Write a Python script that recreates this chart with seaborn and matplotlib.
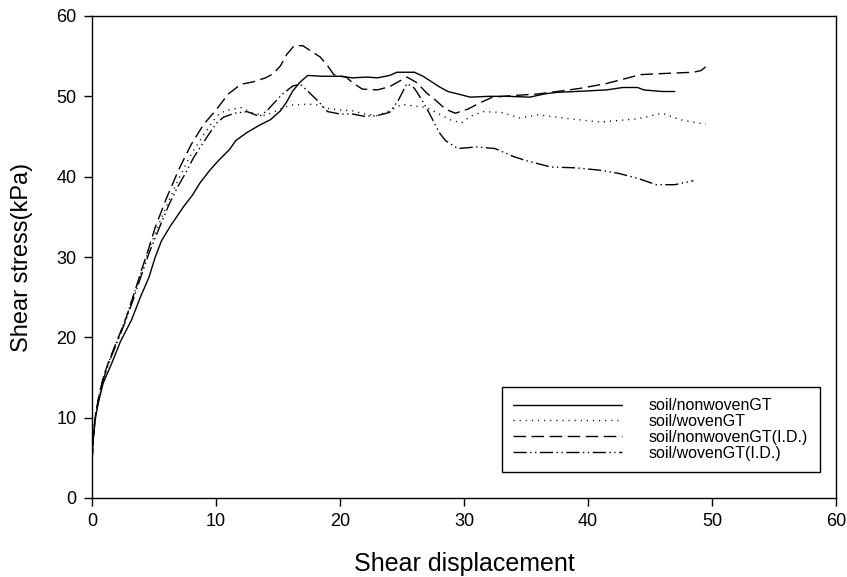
import matplotlib
matplotlib.use("Agg")
import matplotlib.pyplot as plt
import seaborn as sns
import pandas as pd

# ---- data ----
nonwoven_x = [0, 0.1, 0.25, 0.5, 0.9, 1.6, 2.3, 3.2, 3.9, 4.6, 5.1, 5.6, 6.3, 7.4, 8.1, 8.7,
              9.5, 10.2, 11.1, 11.6, 12.5, 13.5, 14.4, 15.2, 15.7, 16.2, 16.8, 17.4, 18.5,
              20.0, 21.0, 22.2, 23.0, 24.0, 24.6, 26.0, 26.7, 27.2, 28.0, 28.7, 29.5, 30.5,
              32.0, 33.5, 35.3, 36.5, 37.5, 39.0, 41.5, 42.8, 44.0, 44.5, 46.0, 47.0]
nonwoven_y = [4.5, 7.3, 9.7, 11.8, 14.3, 16.8, 19.5, 22.2, 25.0, 27.5, 30.0, 32.0, 33.8, 36.3,
              37.7, 39.2, 40.8, 42.0, 43.4, 44.5, 45.5, 46.4, 47.1, 48.2, 49.3, 50.7, 51.8,
              52.6, 52.5, 52.5, 52.3, 52.4, 52.3, 52.6, 53.0, 53.0, 52.5, 52.0, 51.2, 50.6,
              50.3, 49.9, 50.0, 50.0, 49.9, 50.3, 50.5, 50.6, 50.8, 51.1, 51.1, 50.8, 50.6, 50.6]

woven_x = [0, 0.1, 0.25, 0.5, 0.9, 1.4, 2.0, 2.7, 3.3, 4.0, 4.6, 5.5, 6.2, 7.0, 8.0, 9.0, 9.7,
           10.3, 11.0, 12.0, 13.0, 14.0, 15.0, 16.0, 17.0, 18.0, 19.0, 20.0, 21.0, 22.0, 23.0,
           24.0, 25.0, 26.0, 27.0, 28.0, 29.0, 29.8, 30.5, 31.5, 33.0, 34.5, 36.0, 38.0, 41.0,
           44.0, 46.0, 47.4, 49.5]
woven_y = [4.5, 7.6, 10.1, 12.4, 15.0, 17.1, 19.5, 22.3, 25.0, 28.3, 31.0, 34.5, 37.0, 39.8,
           42.8, 45.2, 46.8, 47.9, 48.3, 48.6, 47.9, 47.6, 48.3, 48.9, 49.0, 49.0, 48.5, 48.3,
           48.2, 47.8, 47.6, 48.2, 49.0, 48.8, 48.6, 47.8, 47.0, 46.7, 47.5, 48.1, 48.0, 47.3,
           47.7, 47.3, 46.8, 47.2, 47.9, 47.1, 46.5]

nonwoven_id_x = [0, 0.1, 0.25, 0.5, 0.9, 1.35, 2.0, 2.7, 3.3, 4.0, 4.6, 5.1, 6.0, 7.0, 8.0,
                 9.0, 10.0, 11.0, 12.0, 13.0, 14.0, 14.6, 15.2, 15.7, 16.3, 17.0, 17.8, 18.4,
                 19.0, 19.5, 20.5, 21.0, 21.8, 23.0, 24.0, 24.8, 25.4, 26.2, 27.0, 27.8, 28.5,
                 29.3, 30.3, 31.3, 32.3, 34.0, 36.0, 37.5, 39.4, 41.5, 43.0, 44.2, 45.5, 47.0,
                 48.5, 49.1, 49.6]
nonwoven_id_y = [4.5, 7.5, 10.0, 12.3, 15.0, 17.0, 19.5, 22.2, 25.0, 28.4, 31.2, 33.7, 37.3,
                 40.9, 44.0, 46.5, 48.3, 50.3, 51.5, 51.8, 52.3, 52.8, 53.8, 55.2, 56.3, 56.3,
                 55.5, 54.9, 53.8, 52.7, 52.4, 51.7, 50.9, 50.8, 51.2, 51.9, 52.4, 51.7, 50.4,
                 49.4, 48.4, 47.9, 48.4, 49.2, 49.9, 50.1, 50.3, 50.6, 51.0, 51.6, 52.2, 52.7,
                 52.8, 52.9, 53.0, 53.2, 53.8]

woven_id_x = [0, 0.1, 0.25, 0.5, 0.9, 1.4, 2.0, 2.7, 3.3, 4.0, 4.6, 5.5, 6.2, 6.9, 7.6, 8.2,
              9.3, 10.0, 10.6, 11.5, 12.5, 13.5, 14.1, 14.7, 15.3, 16.2, 16.8, 17.5, 18.3,
              19.0, 20.0, 21.0, 22.0, 23.0, 24.0, 24.7, 25.4, 26.0, 26.5, 27.0, 27.5, 28.0,
              28.5, 29.5, 31.0, 32.5, 34.0, 35.0, 37.0, 39.0, 41.0, 42.5, 44.0, 45.5, 47.0, 48.5]
woven_id_y = [4.5, 7.3, 9.8, 12.0, 14.7, 17.0, 19.3, 22.0, 24.6, 27.8, 30.5, 33.9, 36.5, 38.7,
              40.6, 42.4, 45.0, 46.6, 47.4, 47.9, 48.1, 47.5, 48.2, 49.2, 50.2, 51.3, 51.5,
              50.5, 49.3, 48.1, 47.8, 47.8, 47.5, 47.6, 48.0, 49.5, 51.6, 51.0, 49.8, 48.5,
              47.0, 45.5, 44.5, 43.5, 43.7, 43.5, 42.5, 42.0, 41.2, 41.1, 40.8, 40.4, 39.8,
              39.0, 39.0, 39.5]

labels = ["soil/nonwovenGT", "soil/wovenGT", "soil/nonwovenGT(I.D.)", "soil/wovenGT(I.D.)"]
x_ticks = [0, 10, 20, 30, 40, 50, 60]
y_ticks = [0, 10, 20, 30, 40, 50, 60]

sns.set_style("ticks")
plt.rcParams["font.family"] = ["Liberation Sans", "DejaVu Sans"]
plt.rcParams["xtick.direction"] = "out"
plt.rcParams["ytick.direction"] = "out"
plt.rcParams["text.color"] = "black"
plt.rcParams["axes.labelcolor"] = "black"

fig = plt.figure(figsize=(8.47, 5.77), dpi=100)
ax = fig.add_axes([92 / 847, 79 / 577, 744 / 847, 482 / 577])

series = [(nonwoven_x, nonwoven_y), (woven_x, woven_y),
          (nonwoven_id_x, nonwoven_id_y), (woven_id_x, woven_id_y)]
styles = ["-", (0, (0.8, 3.6)), (0, (9, 4)), (0, (9.5, 2.5, 1, 2.5, 1, 2.5))]

for (xs, ys), lab, ls in zip(series, labels, styles):
    df = pd.DataFrame({"x": xs, "y": ys})
    sns.lineplot(data=df, x="x", y="y", ax=ax, color="black", linewidth=1.0,
                 linestyle=ls, sort=False, label=lab, estimator=None)

ax.set_xlim(0, 60)
ax.set_ylim(0, 60)
ax.set_xticks(x_ticks)
ax.set_yticks(y_ticks)
ax.tick_params(axis="both", labelsize=13, length=6, width=1.0, color="black",
               labelcolor="black", pad=5)
for sp in ax.spines.values():
    sp.set_visible(True)
    sp.set_linewidth(1.0)
    sp.set_color("black")

ax.set_xlabel("Shear displacement", fontsize=18, labelpad=16, color="black")
ax.set_ylabel("Shear stress(kPa)", fontsize=17, labelpad=17, color="black")

leg = ax.legend(loc="upper left", bbox_to_anchor=((502 - 92) / 744, (498 - 387) / 482),
                borderaxespad=0, frameon=True, fancybox=False, fontsize=11.5,
                handlelength=6.8, handletextpad=1.7, labelspacing=0.05,
                borderpad=0.7)
leg.get_frame().set_edgecolor("black")
leg.get_frame().set_linewidth(1.0)
leg.get_frame().set_alpha(1)

fig.savefig("out.png", dpi=100)
